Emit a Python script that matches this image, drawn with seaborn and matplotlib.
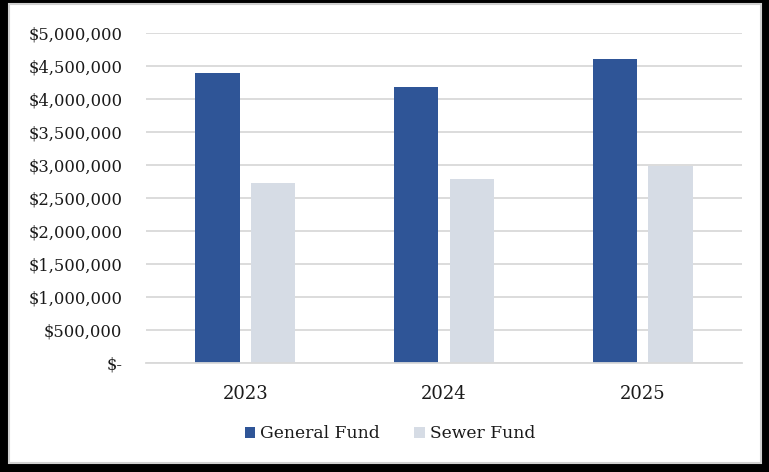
import pandas as pd
import matplotlib
matplotlib.use("Agg")
import matplotlib.pyplot as plt
import seaborn as sns
from matplotlib.patches import Rectangle
from matplotlib.ticker import FuncFormatter

years = ["2023", "2024", "2025"]
general_fund = [4400000, 4180000, 4600000]
sewer_fund = [2720000, 2790000, 2990000]
series_names = ["General Fund", "Sewer Fund"]

df = pd.DataFrame({
    "Year": years * 2,
    "Amount": general_fund + sewer_fund,
    "Fund": [series_names[0]] * 3 + [series_names[1]] * 3,
})

sns.set_style("white")
plt.rcParams["font.family"] = ["DejaVu Serif"]
plt.rcParams["text.color"] = "#1a1a1a"

fig = plt.figure(figsize=(7.69, 4.72), dpi=100, facecolor="black")
W, H = 769, 472
# white card inside the black frame
fig.patches.append(Rectangle((9 / W, 1 - 463 / H), (761 - 9) / W, (463 - 4) / H,
                             transform=fig.transFigure, facecolor="white",
                             edgecolor="#d0d0d0", linewidth=1.5, zorder=-10))

ax = fig.add_axes([146 / W, 1 - 363 / H, (742 - 146) / W, (363 - 33) / H])
ax.set_facecolor("white")
ax.set_zorder(5)

sns.barplot(data=df, x="Year", y="Amount", hue="Fund",
            palette=["#2F5597", "#D6DCE5"], width=0.56, gap=0.2,
            ax=ax, saturation=1, linewidth=0)

ax.set_ylim(0, 5000000)
ax.set_yticks(range(0, 5000001, 500000))
ax.yaxis.set_major_formatter(FuncFormatter(
    lambda v, p: "$-" if v == 0 else f"${v:,.0f}"))
ax.grid(axis="y", color="#D9D9D9", linewidth=1.3)
ax.set_axisbelow(True)
for s in ["top", "right", "left"]:
    ax.spines[s].set_visible(False)
ax.spines["bottom"].set_color("#D9D9D9")
ax.spines["bottom"].set_linewidth(1.3)
ax.tick_params(axis="y", length=0, pad=17, labelsize=11.8, labelcolor="#1a1a1a")
ax.tick_params(axis="x", length=0, pad=16, labelsize=13, labelcolor="#1a1a1a")
ax.set_xlabel("")
ax.set_ylabel("")

ax.legend(loc="center", bbox_to_anchor=(390 / W, 1 - 434 / H),
          bbox_transform=fig.transFigure, ncol=2,
          frameon=False, fontsize=12.3, handlelength=0.6, handleheight=0.6,
          handletextpad=0.3, columnspacing=2.0)

fig.savefig("out.png", dpi=100, facecolor="black")
